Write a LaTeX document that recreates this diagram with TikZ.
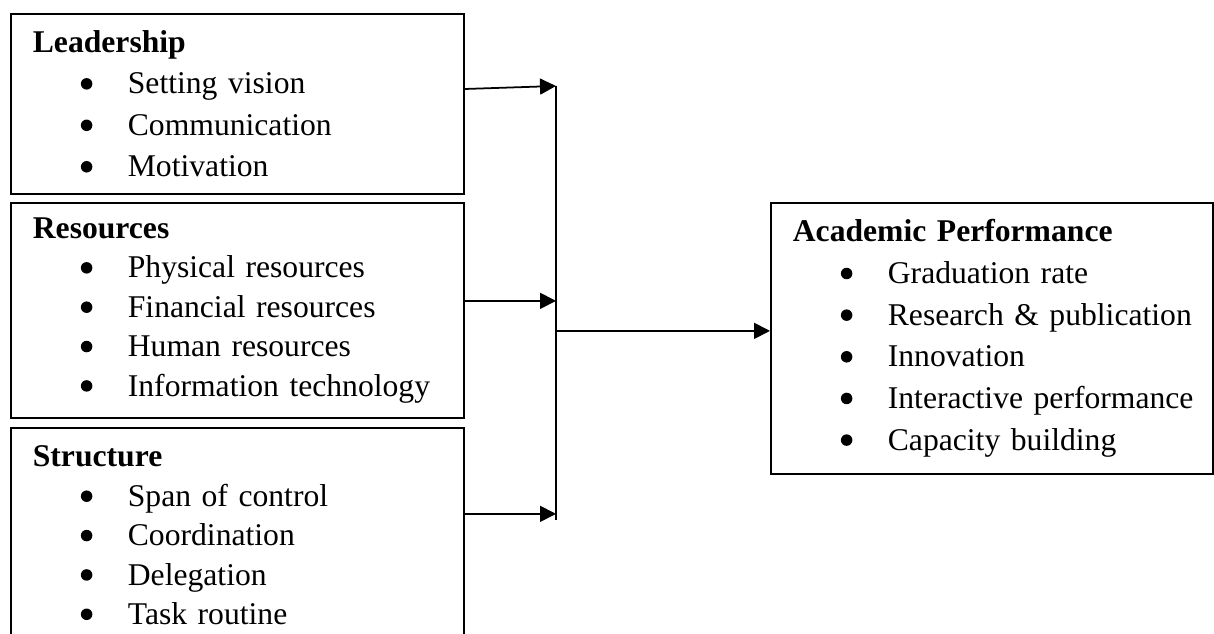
\documentclass[tikz,border=0pt]{standalone}
\usepackage{fontspec}
\setmainfont{Liberation Serif}
\usetikzlibrary{arrows.meta}

% 列表项：缩进圆点 + 文字（整行不断开）
\newcommand{\itm}[1]{\mbox{\hspace*{9.6mm}\makebox[9.4mm][l]{\tikz[baseline=0pt]\fill (0,0.32em) circle (1.15mm);}#1}}

\begin{document}
\begin{tikzpicture}[
    >={Triangle[length=3.2mm,width=3.2mm]},
    every node/.style={font=\fontsize{18}{22.4}\selectfont},
    % 左侧因素框
    factor/.style={
        draw, line width=1pt, align=left, anchor=north west,
        inner xsep=4.4mm, inner ysep=0pt, text width=81.8mm
    },
    % 右侧结果框
    outcome/.style={
        draw, line width=1pt, align=left, anchor=north west,
        inner xsep=4.4mm, inner ysep=0pt, text width=79.6mm,
        font=\fontsize{18}{23.7}\selectfont
    },
    % 连线
    arr/.style={->, line width=1pt},
    spine/.style={-, line width=1pt},
]

\useasboundingbox (0,0) rectangle (24.28,-12.68);

%% ── 左侧三个因素框（x=0.2cm 对齐）──────────────────
\node[factor, minimum height=36mm, font=\fontsize{18}{23.6}\selectfont] (lead) at (0.2,-0.26)
    {\textbf{Leadership}\\
     \itm{Setting vision}\\
     \itm{Communication}\\
     \itm{Motivation}};

\node[factor, minimum height=43mm] (res) at (0.2,-4.04)
    {\textbf{Resources}\\
     \itm{Physical resources}\\
     \itm{Financial resources}\\
     \itm{Human resources}\\
     \itm{Information technology}};

\node[factor, minimum height=43mm] (str) at (0.2,-8.54)
    {\textbf{Structure}\\
     \itm{Span of control}\\
     \itm{Coordination}\\
     \itm{Delegation}\\
     \itm{Task routine}};

%% ── 右侧结果框 ───────────────────────────────────────
\node[outcome, minimum height=54.2mm] (acad) at (15.4,-4.04)
    {\textbf{Academic Performance}\\
     \itm{Graduation rate}\\
     \itm{Research \& publication}\\
     \itm{Innovation}\\
     \itm{Interactive performance}\\
     \itm{Capacity building}};

%% ── 汇合脊线与箭头 ───────────────────────────────────
\def\sx{11.12}  % 纵向脊的 x 坐标

\coordinate (stop) at (\sx,-1.72);
\coordinate (sbot) at (\sx,-10.4);
\draw[spine] (stop) -- (sbot);

% 因素框 → 脊
\draw[arr] ([yshift=-15.2mm]lead.north east) -- (stop);
\coordinate (rout) at ([yshift=1.9mm]res.east);
\draw[arr] (rout) -- (rout -| stop);
\coordinate (sout) at ([yshift=4.3mm]str.east);
\draw[arr] (sout) -- (sout -| stop);

% 脊 → 结果框
\coordinate (ain) at ([yshift=1.5mm]acad.west);
\draw[arr] (ain -| stop) -- (ain);

\end{tikzpicture}
\end{document}
